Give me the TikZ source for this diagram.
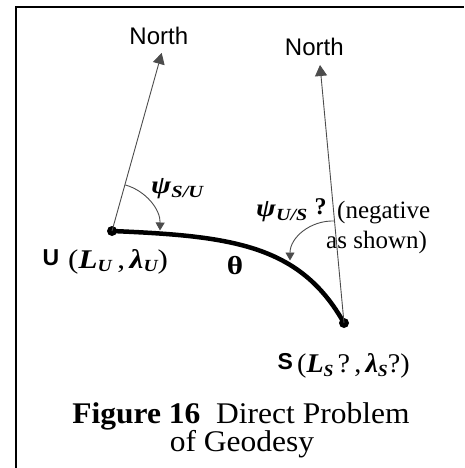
\documentclass[tikz,border=0pt]{standalone}
\usepackage{fontspec}
\usepackage{graphicx}
\setmainfont{Liberation Serif}
\newfontfamily\arialf{Liberation Sans}
\usetikzlibrary{arrows.meta}
\newcommand{\fs}[1]{\fontsize{#1}{#1}\selectfont}
\newcommand{\sbx}[2][3.5pt]{\raisebox{-#1}{\fs{17}\bfseries\itshape #2}}
\newcommand{\bi}[1]{\textbf{\textit{#1}}}
\begin{document}
\begin{tikzpicture}[x=1pt,y=-1pt,
  txt/.style={inner sep=0pt, anchor=base west},
  northline/.style={draw=black!70, line width=0.9pt, -{Triangle[length=11pt,width=12pt]}},
  anglearc/.style={draw=black!70, line width=0.9pt, -{Triangle[length=8pt,width=9pt]}},
  geod/.style={line width=4.5pt},
  dot/.style={circle, fill=black, inner sep=0pt, minimum size=10pt},
  framel/.style={line width=1.7pt},
  northlbl/.style={inner sep=0pt, font=\arialf\fs{24}},
  ptlbl/.style={txt, font=\arialf\bfseries\fs{23}},
  coordlbl/.style={txt, font=\fs{27}},
  psilbl/.style={txt, font=\fs{25}},
  caplbl/.style={inner sep=0pt, anchor=base, align=center, font=\fs{30}}]
\useasboundingbox (0,0) rectangle (464,468);
% frame
\coordinate (FA) at (15.8,468);
\coordinate (FB) at (15.8,6.8);
\coordinate (FC) at (464,6.8);
\draw[framel] (FA) -- (FB) -- (FC);
% points
\node[dot] (U) at (112,231) {};
\node[dot] (S) at (344,323) {};
\coordinate (N1) at (161.7,53);
\coordinate (N2) at (320,65);
% geodesic
\draw[geod] (U.center) .. controls (232,236) and (300,244.7) .. (S.center);
% north lines
\draw[northline] (U.center) -- (N1);
\draw[northline] (S.center) -- (N2);
% angle arcs
\coordinate (A1s) at (125.2,184.9);
\coordinate (A1e) at (160,230.5);
\draw[anglearc] (A1s) .. controls (146.1,190.9) and (160.4,209.5) .. (A1e);
\coordinate (A2s) at (334.3,221);
\coordinate (A2e) at (290,260.5);
\draw[anglearc] (A2s) .. controls (310.5,220.2) and (290,237.5) .. (A2e);
% labels
\node[northlbl] (n1lbl) at (158.8,36) {North};
\node[northlbl] (n2lbl) at (314.3,47) {North};
\node[psilbl] (psiSU) at (151,193) {\scalebox{1.2}[1]{\bi{ψ}\sbx[4pt]{S/U}}};
\node[psilbl] (psiUS) at (256,216) {\scalebox{1.18}[1]{\bi{ψ}\sbx[4pt]{U/S}}};
\node[txt, font=\bfseries\fs{24}] (qmark) at (314.5,214) {?};
\node[txt, font=\fs{25}] (neg1) at (337,218.5) {(negative};
\node[txt, font=\fs{25}] (neg2) at (326,248.5) {as shown)};
\node[inner sep=0pt, font=\bfseries\fs{26}] (theta) at (235,266) {\scalebox{1.2}[1]{θ}};
\node[ptlbl] (Ulbl) at (42.5,265) {U};
\node[coordlbl] (Ucoord) at (68,268) {\scalebox{1.15}[1]{(\bi{L}\sbx{U}\hspace{5pt},\hspace{4pt}\bi{λ}\sbx{U})}};
\node[ptlbl] (Slbl) at (277.5,369.5) {S};
\node[coordlbl] (Scoord) at (297,372.5) {\scalebox{1.04}[1]{(\bi{L}\sbx{S}\hspace{4pt}?\hspace{4pt},\hspace{4pt}\bi{λ}\sbx{S}?)}};
\node[caplbl] (cap) at (241,451.5) {\scalebox{1.05}[1]{\textbf{Figure 16}\hspace{15pt}Direct Problem}\\[-1.8pt]\hspace*{2pt}\scalebox{1.05}[1]{of Geodesy}};
\end{tikzpicture}
\end{document}
